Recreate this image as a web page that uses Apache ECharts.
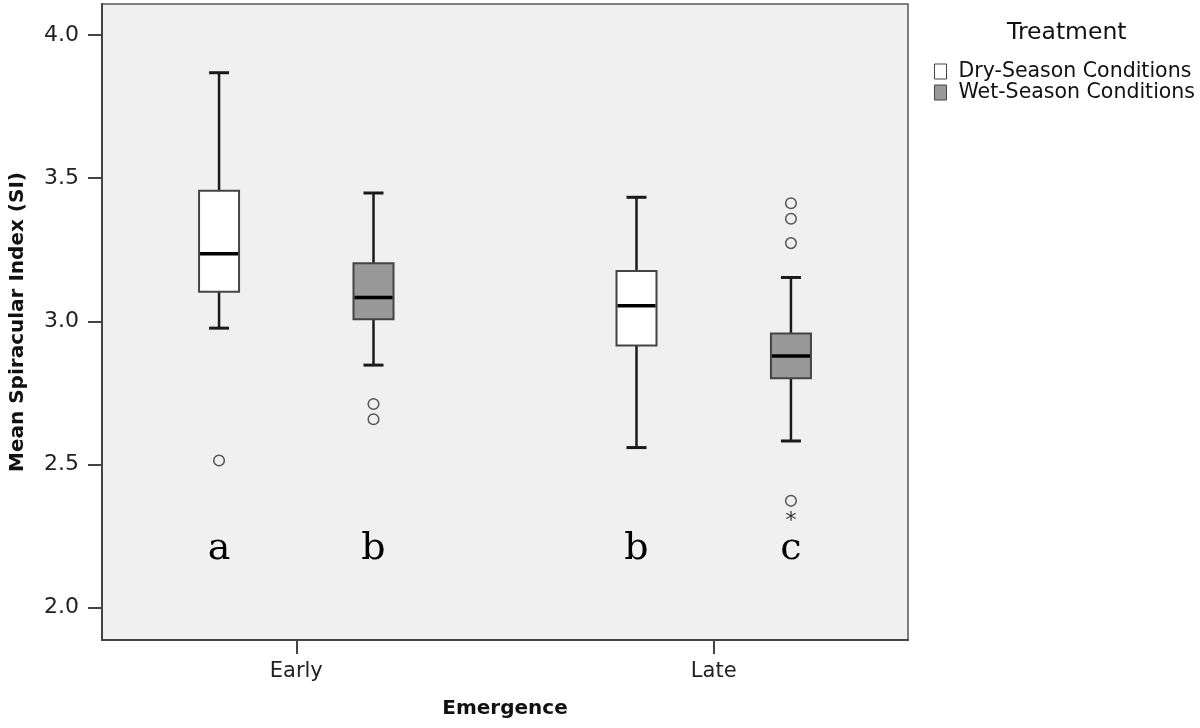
<!DOCTYPE html>
<html>
<head>
<meta charset="utf-8">
<script src="https://cdn.jsdelivr.net/npm/echarts@6/dist/echarts.min.js"></script>
<style>html,body{margin:0;padding:0;background:#fff}#chart{width:1200px;height:728px}</style>
</head>
<body>
<div id="chart"></div>
<script>
// ---- data ----
const categories = ['Early', 'Late'];
const treatments = ['Dry-Season Conditions', 'Wet-Season Conditions'];
const yTicks = [2.0, 2.5, 3.0, 3.5, 4.0];
// [lowWhisker, Q1, median, Q3, highWhisker] per category
const dryBoxes = [
  [2.976, 3.103, 3.236, 3.456, 3.868],
  [2.559, 2.915, 3.054, 3.176, 3.433]
];
const wetBoxes = [
  [2.847, 3.007, 3.083, 3.203, 3.448],
  [2.582, 2.801, 2.879, 2.957, 3.153]
];
const dryOutliers = [[2.514], []];
const wetOutliers = [[2.711, 2.658], [3.412, 3.358, 3.273, 2.373]];
const dryExtremes = [[], []];
const wetExtremes = [[], [2.316]];
const dryLetters = ['a', 'b'];
const wetLetters = ['b', 'c'];

// ---- chart ----
const chart = echarts.init(document.getElementById('chart'), null, {renderer: 'canvas'});
const GROUP_OFFSET = 0.185;
const LETTER_Y = 2.205;

function makeSeries(name, boxes, outliers, extremes, letters, fill, offset) {
  const data = boxes.map((b, i) => [i].concat(b));
  return {
    name: name,
    type: 'custom',
    itemStyle: {color: fill, borderColor: '#444', borderWidth: 1},
    encode: {x: 0, y: [1, 2, 3, 4, 5]},
    data: data,
    renderItem: function (params, api) {
      const gi = api.value(0);
      const x = gi + offset;
      const c = api.coord([x, api.value(1)]);
      const cx = c[0];
      const yLow = c[1];
      const yQ1 = api.coord([x, api.value(2)])[1];
      const yMed = api.coord([x, api.value(3)])[1];
      const yQ3 = api.coord([x, api.value(4)])[1];
      const yHigh = api.coord([x, api.value(5)])[1];
      const hw = 20, cw = 10;
      const wStyle = {stroke: '#1a1a1a', lineWidth: 2.5};
      const children = [
        {type: 'line', shape: {x1: cx, y1: yQ3, x2: cx, y2: yHigh}, style: wStyle},
        {type: 'line', shape: {x1: cx, y1: yQ1, x2: cx, y2: yLow}, style: wStyle},
        {type: 'line', shape: {x1: cx - cw, y1: yHigh, x2: cx + cw, y2: yHigh}, style: {stroke: '#1a1a1a', lineWidth: 3}},
        {type: 'line', shape: {x1: cx - cw, y1: yLow, x2: cx + cw, y2: yLow}, style: {stroke: '#1a1a1a', lineWidth: 3}},
        {type: 'rect', shape: {x: cx - hw, y: yQ3, width: 2 * hw, height: yQ1 - yQ3},
          style: {fill: fill, stroke: '#444', lineWidth: 2}},
        {type: 'line', shape: {x1: cx - hw + 1, y1: yMed, x2: cx + hw - 1, y2: yMed}, style: {stroke: '#000', lineWidth: 3.5}}
      ];
      (outliers[gi] || []).forEach(v => {
        const p = api.coord([x, v]);
        children.push({type: 'circle', shape: {cx: p[0], cy: p[1], r: 5.3},
          style: {fill: 'rgba(0,0,0,0)', stroke: '#555', lineWidth: 1.5}});
      });
      (extremes[gi] || []).forEach(v => {
        const p = api.coord([x, v]);
        children.push({type: 'text', style: {text: '*', x: p[0], y: p[1] + 4, align: 'center', verticalAlign: 'middle',
          font: '22px "DejaVu Sans"', fill: '#333'}});
      });
      const lp = api.coord([x, LETTER_Y]);
      children.push({type: 'text', style: {text: letters[gi], x: lp[0], y: lp[1], align: 'center', verticalAlign: 'middle',
        font: '38px "DejaVu Serif", "Liberation Serif", serif', fill: '#000'}});
      return {type: 'group', children: children};
    }
  };
}

const option = {
  backgroundColor: '#ffffff',
  animation: false,
  title: {
    text: 'Treatment', left: 1007, top: 21, padding: 0,
    textStyle: {fontFamily: 'DejaVu Sans', fontSize: 23.5, fontWeight: 'normal', color: '#111'}
  },
  legend: {
    orient: 'vertical', left: 934, top: 61, itemGap: 0, padding: 0,
    itemWidth: 12, itemHeight: 15, icon: 'rect',
    textStyle: {fontFamily: 'DejaVu Sans', fontSize: 20.5, color: '#111', padding: [0, 0, 0, 7]},
    data: [
      {name: treatments[0], itemStyle: {color: '#ffffff', borderColor: '#444', borderWidth: 1}},
      {name: treatments[1], itemStyle: {color: '#999999', borderColor: '#444', borderWidth: 1}}
    ]
  },
  grid: {
    left: 99, right: 292, top: 4, bottom: 88,
    show: true, backgroundColor: '#f0f0f0', borderColor: '#555', borderWidth: 1.5
  },
  xAxis: {
    type: 'value', min: -0.4654, max: 1.4654,
    name: 'Emergence', nameLocation: 'middle', nameGap: 59,
    nameTextStyle: {fontFamily: 'DejaVu Sans', fontSize: 20, fontWeight: 'bold', color: '#111'},
    axisLine: {show: true, onZero: false, lineStyle: {color: '#444', width: 2}},
    axisTick: {show: true, length: 14, lineStyle: {color: '#444', width: 2}, customValues: [0, 1]},
    axisLabel: {
      customValues: [0, 1], margin: 21,
      fontFamily: 'DejaVu Sans', fontSize: 21, color: '#222',
      formatter: v => categories[Math.round(v)]
    },
    splitLine: {show: false}
  },
  yAxis: {
    type: 'value', min: 1.887, max: 4.108,
    name: 'Mean Spiracular Index (SI)', nameLocation: 'middle', nameGap: 74,
    nameTextStyle: {fontFamily: 'DejaVu Sans', fontSize: 20, fontWeight: 'bold', color: '#111'},
    axisLine: {show: true, onZero: false, lineStyle: {color: '#444', width: 2}},
    axisTick: {show: true, length: 14, lineStyle: {color: '#444', width: 2}, customValues: yTicks},
    axisLabel: {
      customValues: yTicks, margin: 23,
      fontFamily: 'DejaVu Sans', fontSize: 22, color: '#222',
      formatter: v => v.toFixed(1)
    },
    splitLine: {show: false}
  },
  series: [
    makeSeries(treatments[0], dryBoxes, dryOutliers, dryExtremes, dryLetters, '#ffffff', -GROUP_OFFSET),
    makeSeries(treatments[1], wetBoxes, wetOutliers, wetExtremes, wetLetters, '#999999', GROUP_OFFSET)
  ]
};
chart.setOption(option);
</script>
</body>
</html>
